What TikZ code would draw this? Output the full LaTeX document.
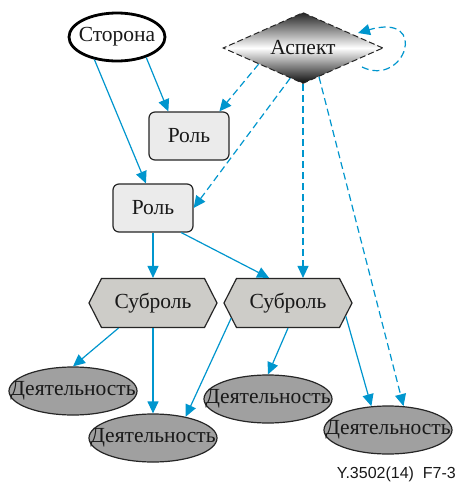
\documentclass[tikz,border=0pt]{standalone}
\usepackage{fontspec}
\setmainfont{Liberation Serif}
\newfontfamily\labelfont{Liberation Sans}
\usetikzlibrary{shapes.geometric,shapes.symbols,arrows.meta,calc}
\definecolor{lnblue}{RGB}{0,150,206}
\definecolor{rolefill}{RGB}{235,235,235}
\definecolor{subfill}{RGB}{205,204,200}
\definecolor{actfill}{RGB}{160,160,160}
\begin{document}
\begin{tikzpicture}[x=1pt,y=-1pt,
  every node/.style={font=\fontsize{21.5}{24}\selectfont, text=black!90},
  rolebox/.style={rectangle, rounded corners=6pt, draw=black!85, line width=1.2pt, fill=rolefill, minimum width=80pt, minimum height=48pt, inner sep=0pt},
  subbox/.style={signal, signal to=east and west, signal pointer angle=126, draw=black!85, line width=1.2pt, fill=subfill, minimum width=128pt, minimum height=49pt, inner sep=0pt},
  actbox/.style={ellipse, draw=black!85, line width=1.2pt, fill=actfill, minimum width=128pt, minimum height=48pt, inner xsep=-25pt, inner ysep=0pt},
  conn/.style={draw=lnblue, line width=1.2pt, -{Triangle[length=12pt,width=11pt]}},
  dconn/.style={conn, dash pattern=on 7pt off 4pt}]
\useasboundingbox[fill=white] (0,0) rectangle (458,483);
\node[ellipse, draw=black, line width=2.8pt, fill=white, minimum width=96pt, minimum height=48pt, inner xsep=-15pt, inner ysep=0pt] (storona) at (117,37) {Сторона};
\node[diamond, aspect=2.25, draw=black!85, line width=1pt, dash pattern=on 6pt off 3pt, minimum width=160pt, minimum height=71pt, inner sep=0pt, top color=black!85, bottom color=black!95, middle color=white] (aspect) at (303,48) {Аспект};
\node[rolebox] (role1) at (189,136) {Роль};
\node[rolebox] (role2) at (153,208) {Роль};
\node[subbox] (sub1) at (153,303) {Суброль};
\node[subbox] (sub2) at (288,303) {Суброль};
\node[actbox] (a1) at (73,391) {Деятельность};
\node[actbox] (a2) at (153,438) {Деятельность};
\node[actbox] (a3) at (268,399) {Деятельность};
\node[actbox] (a4) at (388,430) {Деятельность};
\node[font=\labelfont\fontsize{16}{18}\selectfont, anchor=base east, inner sep=0pt] (fig) at (456,478) {Y.3502(14)\ \ F7-3};
\coordinate (ls) at (362,67);
\coordinate (le) at (358,33);
% connectors
\draw[conn] (storona.-35) -- (role1.130);
\draw[conn] (storona.-135) -- (role2.106);
\draw[dconn] (aspect.-160) -- (role1.39);
\draw[dconn] (aspect.-113) -- (role2.east);
\draw[dconn] (aspect.south) -- (aspect.south |- sub2.north);
\draw[dconn] (aspect.-61) -- (a4.57);
\draw[dconn] (ls) .. controls (405,88) and (430,12) .. (le);
\draw[conn] (role2.south) -- (sub1.north);
\draw[conn] (role2.-41) -- (sub2.127);
\draw[conn] (sub1.-144) -- (a1.north);
\draw[conn] (sub1.south) -- (a2.north);
\draw[conn] (sub2.-165) -- (a2.33);
\draw[conn] (sub2.south) -- (a3.north);
\draw[conn] (sub2.-13) -- (a4.125);
\end{tikzpicture}
\end{document}
